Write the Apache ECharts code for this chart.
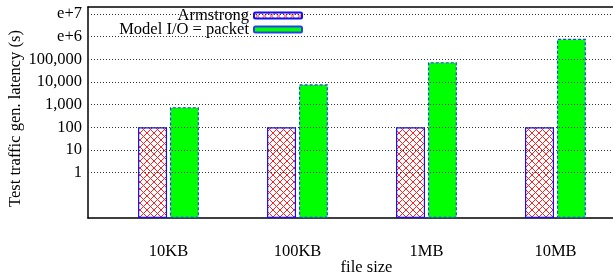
<!DOCTYPE html>
<html><head><meta charset="utf-8">
<script src="https://cdn.jsdelivr.net/npm/echarts@6/dist/echarts.min.js"></script>
<style>html,body{margin:0;padding:0;background:#fff}#c{width:613px;height:275px}</style>
</head><body><div id="c"></div>
<script>
const categories = ['10KB', '100KB', '1MB', '10MB'];
const armstrong = [100, 100, 100, 100];
const modelPacket = [770, 7800, 74000, 790000];
const yTicks = [1, 10, 100, 1000, 10000, 100000, 1000000, 10000000];
const seriesNames = ['Armstrong', 'Model I/O = packet'];

const FONT = 'Liberation Serif';
const FS = 16.5;

function hatch() {
  const c = document.createElement('canvas');
  c.width = 7; c.height = 7;
  const g = c.getContext('2d');
  g.fillStyle = '#fff'; g.fillRect(0, 0, 7, 7);
  g.strokeStyle = '#ff2020'; g.lineWidth = 1;
  g.beginPath();
  g.moveTo(-1, -1); g.lineTo(8, 8);
  g.moveTo(8, -1); g.lineTo(-1, 8);
  g.stroke();
  return c;
}

function fmtY(v) {
  if (v < 1) return '';
  if (v >= 1e6) return 'e+' + Math.round(Math.log10(v));
  return Math.round(v).toLocaleString('en-US');
}

const chart = echarts.init(document.getElementById('c'), null, {renderer: 'canvas'});
chart.setOption({
  animation: false,
  textStyle: {fontFamily: FONT},
  grid: {left: 88, right: 0, top: 7, bottom: 57, containLabel: false, outerBoundsMode: 'none'},
  legend: [
    {data: [seriesNames[0]], right: 310, top: 7, align: 'right', itemWidth: 48, itemHeight: 6,
     textStyle: {fontFamily: FONT, fontSize: FS, color: '#000'}, padding: 0},
    {data: [seriesNames[1]], right: 310, top: 21, align: 'right', itemWidth: 48, itemHeight: 6,
     textStyle: {fontFamily: FONT, fontSize: FS, color: '#000'}, padding: 0}
  ],
  xAxis: [{
    type: 'value', min: -0.624, max: 3.446,
    axisLine: {show: true, onZero: false, lineStyle: {color: '#000', width: 1.5}},
    axisTick: {show: false},
    splitLine: {show: false},
    axisLabel: {customValues: [0, 1, 2, 3], formatter: v => categories[Math.round(v)] || '',
      fontFamily: FONT, fontSize: FS, color: '#000', margin: 25},
    name: 'file size', nameLocation: 'middle', nameGap: 41, nameMoveOverlap: false,
    nameTextStyle: {fontFamily: FONT, fontSize: FS, color: '#000', padding: [0, 0, 0, 32]}
  }, {
    type: 'value', position: 'top', min: -0.624, max: 3.446,
    axisLine: {show: true, onZero: false, lineStyle: {color: '#000', width: 1.5}},
    axisTick: {show: false}, axisLabel: {show: false}, splitLine: {show: false}
  }],
  yAxis: {
    type: 'log', logBase: 10, min: 0.01, max: 2e7, startValue: 0.01,
    axisLine: {show: true, onZero: false, lineStyle: {color: '#000', width: 1.5}},
    axisTick: {show: false},
    splitLine: {show: false},
    axisLabel: {formatter: fmtY, fontFamily: FONT, fontSize: FS, color: '#000', margin: 6},
    name: 'Test traffic gen. latency (s)', nameLocation: 'middle', nameGap: 64, nameMoveOverlap: false,
    nameTextStyle: {fontFamily: FONT, fontSize: FS, color: '#000', padding: [0, 12, 0, 0]}
  },
  series: [{
    name: seriesNames[0], type: 'bar', xAxisIndex: 0,
    data: armstrong.map((v, i) => [i, v]),
    barWidth: 29, barGap: '10%',
    itemStyle: {color: {image: hatch(), repeat: 'repeat'}, borderColor: '#1010ff', borderWidth: 1.2},
    markLine: {
      silent: true, symbol: 'none', label: {show: false},
      lineStyle: {color: '#333', type: [1, 2], width: 1},
      data: yTicks.map(v => ({yAxis: v}))
    },
    z: 3
  }, {
    name: seriesNames[1], type: 'bar', xAxisIndex: 0,
    data: modelPacket.map((v, i) => [i, v]),
    barWidth: 29, barGap: '10%',
    itemStyle: {color: '#00ff00', borderColor: '#2244ee', borderWidth: 1.2, borderType: [3, 2]},
    z: 3
  }]
});
</script></body></html>
